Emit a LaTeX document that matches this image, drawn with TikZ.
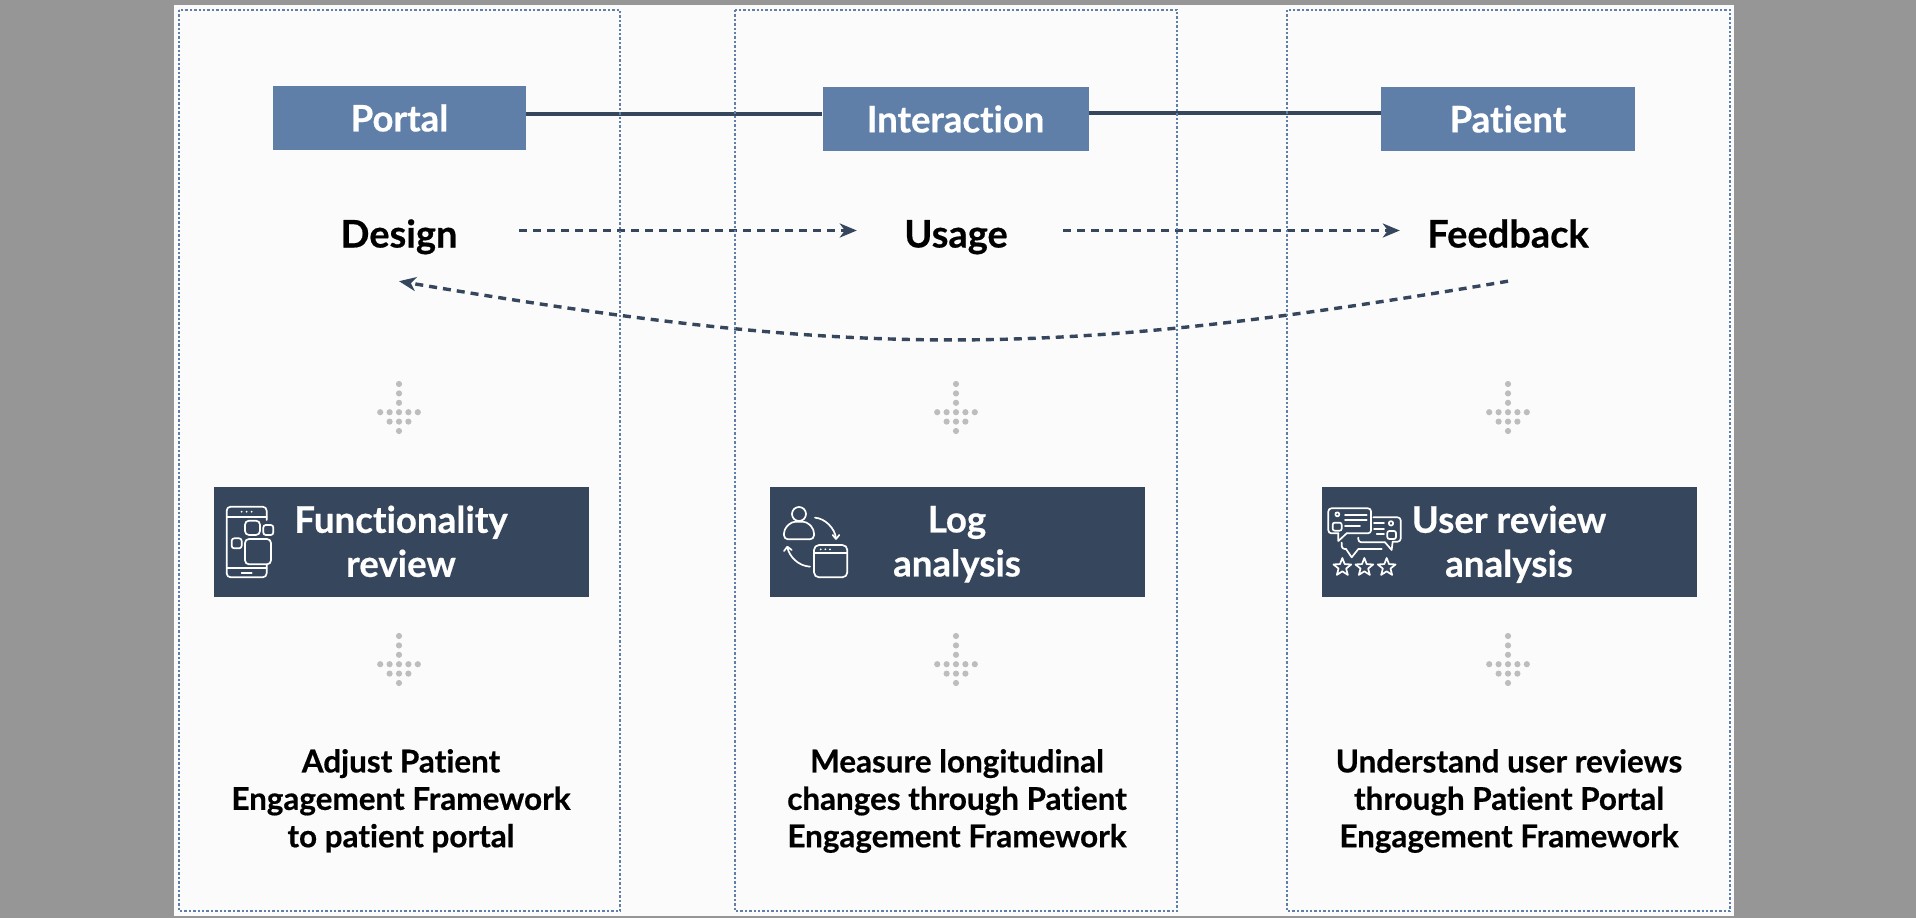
\documentclass[tikz,border=0pt]{standalone}
\usepackage{fontspec}
\setmainfont{Lato}[Ligatures=NoCommon,BoldFeatures={FakeBold=0.5}]
\usetikzlibrary{arrows.meta,calc}
\definecolor{pagegray}{HTML}{969696}
\definecolor{cardwhite}{HTML}{FBFBFB}
\definecolor{steelblue}{HTML}{5F7FA9}
\definecolor{navybox}{HTML}{36465D}
\definecolor{dotgray}{HTML}{BDBDBD}
\newcommand{\lstrut}{\vphantom{Ag}}
\tikzset{
  panel/.style={draw=steelblue,line width=2.8pt,dash pattern=on 2.4pt off 2pt},
  headbox/.style={fill=steelblue,text=white,inner sep=0pt,font=\fontsize{36.5}{44}\selectfont\bfseries},
  methodbox/.style={fill=navybox,text=white,inner sep=0pt,minimum width=375pt,minimum height=110pt},
  methodtext/.style={text=white,inner sep=0pt,align=center,font=\fontsize{36.7}{44}\selectfont\bfseries},
  stagelabel/.style={text=black,inner sep=0pt,text height=67.5pt,text depth=33.5pt,font=\fontsize{38}{44}\selectfont\bfseries},
  outcome/.style={text=black,inner sep=0pt,align=center,font=\fontsize{31.4}{37.4}\selectfont\bfseries},
  solidlink/.style={draw=navybox,line width=3.4pt},
  flowlink/.style={draw=navybox,line width=3.4pt,dash pattern=on 8pt off 6pt,-{Stealth[length=17pt,width=14pt,inset=5pt]}},
  iconline/.style={draw=white,line width=1.7pt,line cap=round,line join=round}
}
\newcommand{\dotarrow}[2]{%
  \begin{scope}[shift={(#1,#2)}]
    \foreach \yy in {0,9.4,18.8}{\fill[dotgray] (0,\yy) circle (3.1pt);}
    \foreach \xx in {-18.8,-9.4,0,9.4,18.8}{\fill[dotgray] (\xx,28.2) circle (3.1pt);}
    \foreach \xx in {-9.4,0,9.4}{\fill[dotgray] (\xx,37.6) circle (3.1pt);}
    \fill[dotgray] (0,47) circle (3.1pt);
  \end{scope}}
\newcommand{\iconstar}[2]{%
  \draw[iconline,shift={(#1,#2)}] (270:28)
    \foreach \k in {0,...,4}{ -- ({306+72*\k}:12) -- ({342+72*\k}:28)} -- cycle;}
\begin{document}
\begin{tikzpicture}[x=1pt,y=-1pt]
\path[use as bounding box,fill=pagegray] (0,0) rectangle (1916,918);
\fill[cardwhite] (174,5) rectangle (1734,916);

% header boxes
\node[headbox,minimum width=253pt,minimum height=64pt] (portal) at (399.5,118) {Portal};
\node[headbox,minimum width=266pt,minimum height=64pt] (interaction) at (955.5,119) {Interaction};
\node[headbox,minimum width=254pt,minimum height=64pt] (patient) at (1508,119) {Patient};
\draw[solidlink] ([yshift=4pt]portal.east) -- ([yshift=5pt]interaction.west);
\draw[solidlink] ([yshift=6pt]interaction.east) -- ([yshift=6pt]patient.west);

% stage labels
\node[stagelabel,minimum width=240pt] (design) at (399,230.5) {Design};
\node[stagelabel,minimum width=214pt] (usage) at (956,230.5) {Usage};
\node[stagelabel,minimum width=216pt] (feedback) at (1508,230.5) {Feedback};
\draw[flowlink] (design.east) -- ([xshift=8pt]usage.west);
\draw[flowlink] (usage.east) -- (feedback.west);
\draw[flowlink] (feedback.south) .. controls +(-462,78) and +(462,78) .. (design.south);

% panels
\draw[panel] (179,10) rectangle (620,911);
\draw[panel] (735,10) rectangle (1177,911);
\draw[panel] (1287,10) rectangle (1730,911);

% dotted arrows
\dotarrow{399}{384}
\dotarrow{956}{384}
\dotarrow{1508}{384}
\dotarrow{399}{636}
\dotarrow{956}{636}
\dotarrow{1508}{636}

% method boxes
\node[methodbox] (functionality) at (401.5,542) {};
\node[methodbox] (log) at (957,542) {};
\node[methodbox] (review) at (1509.5,542) {};
\node[methodtext] (functionalitytext) at (401,544.5) {\lstrut Functionality\\\lstrut review};
\node[methodtext] (logtext) at (957,544.5) {\lstrut Log\\\lstrut analysis};
\node[methodtext] (reviewtext) at (1509,544.5) {\lstrut User review\\\lstrut analysis};

% phone icon
\begin{scope}[shift={(200,470)},x=0.3333pt,y=-0.3333pt]
  \draw[iconline,rounded corners=4pt] (200,150) -- (200,110) -- (80,110) -- (80,322) -- (200,322) -- (200,285);
  \draw[iconline] (80,140) -- (200,140);
  \draw[iconline] (80,295) -- (200,295);
  \draw[iconline] (125,308) -- (155,308);
  \foreach \xx in {125,140,155}{\fill[white] (\xx,125) circle (1pt);}
  \draw[iconline,rounded corners=4pt] (135,152) rectangle (180,195);
  \draw[iconline,rounded corners=2.5pt] (190,165) rectangle (220,195);
  \draw[iconline,rounded corners=2.5pt] (95,205) rectangle (125,235);
  \draw[iconline,rounded corners=4pt] (135,207) rectangle (213,283);
\end{scope}

% log icon
\begin{scope}[shift={(760,470)},x=0.3333pt,y=-0.3333pt]
  \draw[iconline] (117,132) circle (7pt);
  \draw[iconline,rounded corners=4pt] (72,208) -- (72,178) -- (95,155) -- (140,155) -- (162,178) -- (162,208) -- cycle;
  \draw[iconline] (165,143) .. controls (195,145) and (225,175) .. (228,205);
  \draw[iconline] (218,195) -- (228,207) -- (238,195);
  \draw[iconline] (150,290) .. controls (115,288) and (88,260) .. (82,232);
  \draw[iconline] (72,243) -- (82,230) -- (95,240);
  \draw[iconline,rounded corners=5pt] (162,225) rectangle (262,322);
  \draw[iconline] (162,250) -- (262,250);
  \foreach \xx in {182,196,210}{\fill[white] (\xx,238) circle (1pt);}
\end{scope}

% review icon
\begin{scope}[shift={(1310,470)},x=0.3333pt,y=-0.3333pt]
  \begin{scope}[iconline]
  \draw[rounded corners=3pt] (110,190) -- (183,190) -- (183,115) -- (55,115) -- (55,190) -- (85,190);
  \draw (85,190) -- (85,213) -- (110,190);
  \draw (82,133) circle (2pt);
  \draw[rounded corners=2pt] (68,182) -- (68,158) -- (95,158) -- (95,182) -- cycle;
  \draw (105,135) -- (170,135);
  \draw (105,150) -- (170,150);
  \draw (105,168) -- (150,168);
  \draw[rounded corners=3pt] (190,142) -- (272,142) -- (272,215) -- (248,215);
  \draw (248,215) -- (245,240) -- (225,217);
  \draw[rounded corners=3pt] (225,217) -- (145,217) -- (145,203);
  \draw (192,160) -- (222,160);
  \draw (192,178) -- (222,178);
  \draw (200,193) -- (222,193);
  \draw (243,160) circle (2.2pt);
  \draw[rounded corners=2pt] (232,207) -- (232,183) -- (258,183) -- (258,207) -- cycle;
  \draw[rounded corners=3pt] (95,218) -- (95,237) -- (108,237);
  \draw (108,237) -- (125,262) -- (145,237) -- (215,237);
  \end{scope}
  \iconstar{97}{292}
  \iconstar{163}{292}
  \iconstar{230}{292}
\end{scope}

% outcomes
\node[outcome] (adjust) at (401,801) {\lstrut Adjust Patient\\\lstrut Engagement Framework\\\lstrut to patient portal};
\node[outcome] (measure) at (957,801) {\lstrut Measure longitudinal\\\lstrut changes through Patient\\\lstrut Engagement Framework};
\node[outcome] (understand) at (1509,801) {\lstrut Understand user reviews\\\lstrut through Patient Portal\\\lstrut Engagement Framework};
\end{tikzpicture}
\end{document}
